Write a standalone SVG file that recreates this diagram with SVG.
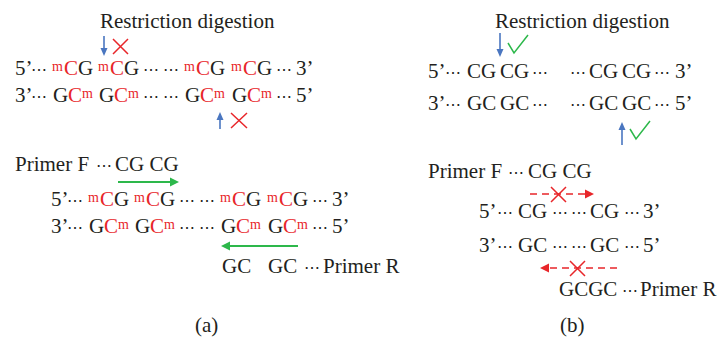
<svg xmlns="http://www.w3.org/2000/svg" width="719" height="344" viewBox="0 0 719 344">
<defs>
<style>
.t{font-size:21px;fill:#231f20}
.r{fill:#e8262a}
.s{font-size:14px}
.k{font-size:16px}
.blue{stroke:#4a76c0;stroke-width:1.6;fill:none}
.bh{fill:#4a76c0}
.x{stroke:#e8262a;stroke-width:1.5;fill:none}
.chk{stroke:#2db84b;stroke-width:1.5;fill:none}
.g{stroke:#2db84b;stroke-width:2;fill:none}
.gh{fill:#2db84b}
.d{stroke:#e8262a;stroke-width:1.6;fill:none;stroke-dasharray:7 5}
.rh{fill:#e8262a}
</style>
</defs>
<rect width="719" height="344" fill="#fff"/>

<g id="panel-a" style="font-family:'Liberation Serif',serif">
<text class="t" x="100" y="28">Restriction digestion</text>
<g id="a-methylated">
<text class="t" y="75"><tspan x="15">5’</tspan><tspan x="31" class="k">⋯</tspan><tspan x="52" y="71" class="r s">m</tspan><tspan x="64" y="75" class="r">C</tspan><tspan x="78" y="75">G</tspan><tspan x="98" y="71" class="r s">m</tspan><tspan x="110" y="75" class="r">C</tspan><tspan x="124" y="75">G</tspan><tspan x="143" class="k">⋯</tspan><tspan x="163" class="k">⋯</tspan><tspan x="184" y="71" class="r s">m</tspan><tspan x="196" y="75" class="r">C</tspan><tspan x="210" y="75">G</tspan><tspan x="231" y="71" class="r s">m</tspan><tspan x="243" y="75" class="r">C</tspan><tspan x="257" y="75">G</tspan><tspan x="276" class="k">⋯</tspan><tspan x="296">3’</tspan></text>
<text class="t" y="102"><tspan x="15">3’</tspan><tspan x="31" class="k">⋯</tspan><tspan x="53">G</tspan><tspan x="68" class="r">C</tspan><tspan x="82" y="98" class="r s">m</tspan><tspan x="99" y="102">G</tspan><tspan x="114" class="r">C</tspan><tspan x="128" y="98" class="r s">m</tspan><tspan x="143" y="102" class="k">⋯</tspan><tspan x="163" class="k">⋯</tspan><tspan x="185">G</tspan><tspan x="200" class="r">C</tspan><tspan x="214" y="98" class="r s">m</tspan><tspan x="232" y="102">G</tspan><tspan x="247" class="r">C</tspan><tspan x="261" y="98" class="r s">m</tspan><tspan x="276" y="102" class="k">⋯</tspan><tspan x="296">5’</tspan></text>
</g>
<text class="t" y="171"><tspan x="15">Primer F</tspan><tspan x="96" class="k">⋯</tspan><tspan x="115">CG CG</tspan></text>
<g id="a-pcr" transform="translate(36,131)">
<text class="t" y="75"><tspan x="15">5’</tspan><tspan x="31" class="k">⋯</tspan><tspan x="52" y="71" class="r s">m</tspan><tspan x="64" y="75" class="r">C</tspan><tspan x="78" y="75">G</tspan><tspan x="98" y="71" class="r s">m</tspan><tspan x="110" y="75" class="r">C</tspan><tspan x="124" y="75">G</tspan><tspan x="143" class="k">⋯</tspan><tspan x="163" class="k">⋯</tspan><tspan x="184" y="71" class="r s">m</tspan><tspan x="196" y="75" class="r">C</tspan><tspan x="210" y="75">G</tspan><tspan x="231" y="71" class="r s">m</tspan><tspan x="243" y="75" class="r">C</tspan><tspan x="257" y="75">G</tspan><tspan x="276" class="k">⋯</tspan><tspan x="296">3’</tspan></text>
<text class="t" y="102"><tspan x="15">3’</tspan><tspan x="31" class="k">⋯</tspan><tspan x="53">G</tspan><tspan x="68" class="r">C</tspan><tspan x="82" y="98" class="r s">m</tspan><tspan x="99" y="102">G</tspan><tspan x="114" class="r">C</tspan><tspan x="128" y="98" class="r s">m</tspan><tspan x="143" y="102" class="k">⋯</tspan><tspan x="163" class="k">⋯</tspan><tspan x="185">G</tspan><tspan x="200" class="r">C</tspan><tspan x="214" y="98" class="r s">m</tspan><tspan x="232" y="102">G</tspan><tspan x="247" class="r">C</tspan><tspan x="261" y="98" class="r s">m</tspan><tspan x="276" y="102" class="k">⋯</tspan><tspan x="296">5’</tspan></text>
</g>
<text class="t" y="273"><tspan x="222">GC</tspan><tspan x="268">GC</tspan><tspan x="304" class="k">⋯</tspan><tspan x="323">Primer R</tspan></text>
<text class="t" x="195" y="332">(a)</text>
</g>

<g id="panel-b" style="font-family:'Liberation Serif',serif">
<text class="t" x="495" y="28">Restriction digestion</text>
<text class="t" y="78"><tspan x="428">5’</tspan><tspan x="445" class="k">⋯</tspan><tspan x="467">CG</tspan><tspan x="500">CG</tspan><tspan x="532" class="k">⋯</tspan><tspan x="570" class="k">⋯</tspan><tspan x="589">CG</tspan><tspan x="622">CG</tspan><tspan x="654" class="k">⋯</tspan><tspan x="675">3’</tspan></text>
<text class="t" y="110"><tspan x="428">3’</tspan><tspan x="445" class="k">⋯</tspan><tspan x="467">GC</tspan><tspan x="500">GC</tspan><tspan x="532" class="k">⋯</tspan><tspan x="570" class="k">⋯</tspan><tspan x="589">GC</tspan><tspan x="622">GC</tspan><tspan x="654" class="k">⋯</tspan><tspan x="675">5’</tspan></text>
<text class="t" y="178"><tspan x="428">Primer F</tspan><tspan x="508" class="k">⋯</tspan><tspan x="528">CG CG</tspan></text>
<text class="t" y="218"><tspan x="479">5’</tspan><tspan x="497" class="k">⋯</tspan><tspan x="518">CG</tspan><tspan x="552" class="k">⋯</tspan><tspan x="571" class="k">⋯</tspan><tspan x="590">CG</tspan><tspan x="624" class="k">⋯</tspan><tspan x="643">3’</tspan></text>
<text class="t" y="252"><tspan x="479">3’</tspan><tspan x="497" class="k">⋯</tspan><tspan x="518">GC</tspan><tspan x="552" class="k">⋯</tspan><tspan x="571" class="k">⋯</tspan><tspan x="590">GC</tspan><tspan x="624" class="k">⋯</tspan><tspan x="643">5’</tspan></text>
<text class="t" y="296"><tspan x="559">GCGC</tspan><tspan x="622" class="k">⋯</tspan><tspan x="640">Primer R</tspan></text>
<text class="t" x="560" y="332">(b)</text>
</g>

<g id="connectors">
<line class="blue" x1="104" y1="36" x2="104" y2="49"/><polygon class="bh" points="100.5,48 107.5,48 104,56"/>
<line class="blue" x1="220" y1="129" x2="220" y2="119"/><polygon class="bh" points="216.5,120 223.5,120 220,112"/>
<path class="x" d="M113,39L128,54M128,39L113,54"/>
<path class="x" d="M231,113L247,128M247,113L231,128"/>
<line class="blue" x1="500" y1="33" x2="500" y2="50"/><polygon class="bh" points="496.5,49 503.5,49 500,57"/>
<line class="blue" x1="622" y1="145" x2="622" y2="129"/><polygon class="bh" points="618.5,130 625.5,130 622,122"/>
<polyline class="chk" points="508,43 514,53 528,35"/>
<polyline class="chk" points="630,129 636,139 650,121"/>
<line class="g" x1="118" y1="182" x2="171" y2="182"/><polygon class="gh" points="170,177.5 179,182 170,186.5"/>
<line class="g" x1="298" y1="246" x2="229" y2="246"/><polygon class="gh" points="230,241.5 221,246 230,250.5"/>
<line class="d" x1="530" y1="194" x2="586" y2="194"/><polygon class="rh" points="585,189.5 594,194 585,198.5"/>
<path class="x" d="M551,187L566,202M566,187L551,202"/>
<line class="d" x1="617" y1="268" x2="548" y2="268"/><polygon class="rh" points="549,263.5 540,268 549,272.5"/>
<path class="x" d="M570,261L585,276M585,261L570,276"/>
</g>
</svg>
